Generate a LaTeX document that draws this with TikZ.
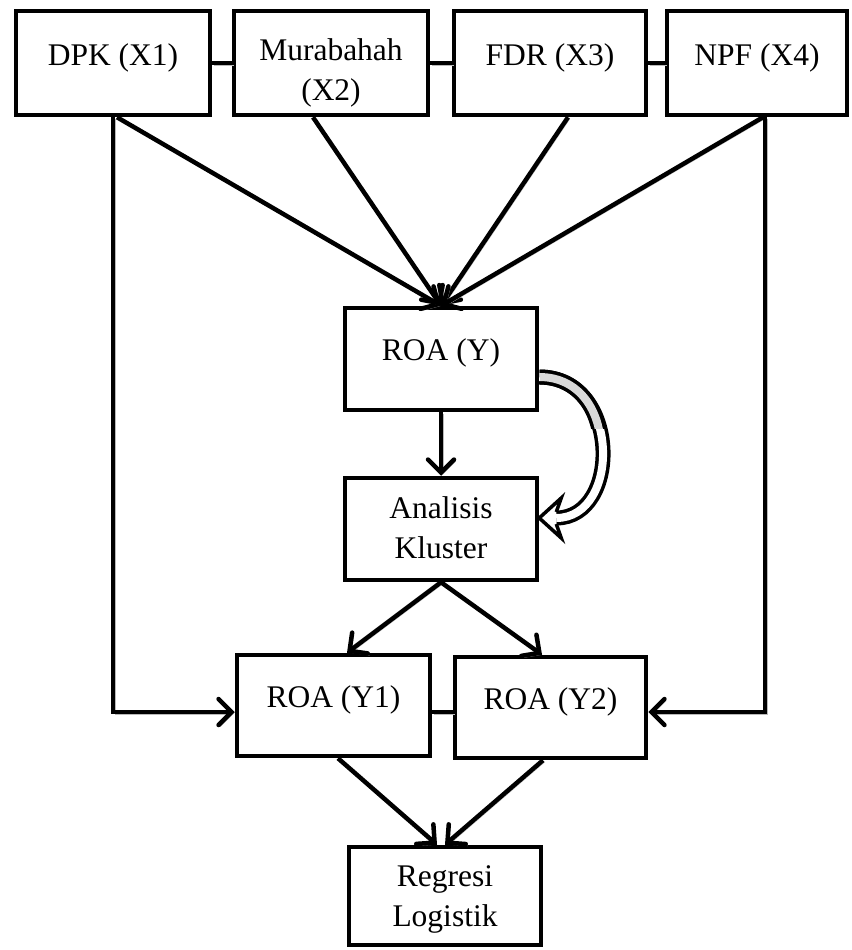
\documentclass[tikz,border=0pt]{standalone}
\usepackage{fontspec}
\setmainfont{Liberation Serif}
\usetikzlibrary{arrows.meta}
\begin{document}
\begin{tikzpicture}[x=1pt,y=-1pt,
  box/.style={draw, fill=white, line width=4.5pt, inner sep=0pt},
  txt/.style={anchor=north, inner sep=0pt, align=center, font=\fontsize{31.5}{40}\selectfont},
  shad/.style={preaction={draw=gray!55, transform canvas={shift={(1.8pt,-1.8pt)}}}},
  link/.style={line width=4.5pt, shad},
  arr/.style={line width=4.5pt, shad, -{Straight Barb[length=13pt,width=26pt,line cap=round]}},
  dbl/.style={line width=3.5pt, double distance=8pt}
]
\useasboundingbox (0,0) rectangle (851,950);
% boxes
\node[box, minimum width=194pt, minimum height=104pt] (dpk) at (113,63) {};
\node[box, minimum width=194pt, minimum height=104pt] (mur) at (331,63) {};
\node[box, minimum width=192pt, minimum height=104pt] (fdr) at (550,63) {};
\node[box, minimum width=180pt, minimum height=104pt] (npf) at (757,63) {};
\node[box, minimum width=192pt, minimum height=102pt] (roa) at (441,359) {};
\node[box, minimum width=192pt, minimum height=102pt] (ana) at (441,529) {};
\node[box, minimum width=193pt, minimum height=101pt] (y1) at (333.5,705.5) {};
\node[box, minimum width=191pt, minimum height=101pt] (y2) at (550.5,707.5) {};
\node[box, minimum width=192pt, minimum height=98pt] (reg) at (445,896) {};
% texts
\node[txt] (tdpk) at ([yshift=-34.5pt]dpk.north) {DPK (X1)};
\node[txt] (tmur) at ([yshift=-29.5pt]mur.north) {Murabahah\\(X2)};
\node[txt] (tfdr) at ([yshift=-34.5pt]fdr.north) {FDR (X3)};
\node[txt] (tnpf) at ([yshift=-34.5pt]npf.north) {NPF (X4)};
\node[txt] (troa) at ([yshift=-32.5pt]roa.north) {ROA (Y)};
\node[txt] (tana) at ([yshift=-20.5pt]ana.north) {Analisis\\Kluster};
\node[txt] (ty1) at ([yshift=-32.5pt]y1.north) {ROA (Y1)};
\node[txt] (ty2) at ([yshift=-32.5pt]y2.north) {ROA (Y2)};
\node[txt] (treg) at ([yshift=-20.5pt]reg.north) {Regresi\\Logistik};
% links
\draw[link] (dpk.east) -- (mur.west);
\draw[link] (mur.east) -- (fdr.west);
\draw[link] (fdr.east) -- (npf.west);
\draw[link] ([yshift=-6.5pt]y1.east) -- ([yshift=-4.5pt]y2.west);
% arrows to ROA
\draw[arr] ([xshift=4pt]dpk.south) -- (roa.north);
\draw[arr] ([xshift=-18pt]mur.south) -- (roa.north);
\draw[arr] ([xshift=18pt]fdr.south) -- (roa.north);
\draw[arr] ([xshift=6pt]npf.south) -- (roa.north);
% side paths
\draw[arr] (dpk.south) |- ([yshift=-6.5pt]y1.west);
\draw[arr] ([xshift=8pt]npf.south) |- ([yshift=-4.5pt]y2.east);
% middle
\draw[arr] (roa.south) -- (ana.north);
\draw[arr] (ana.south) -- ([xshift=13.5pt]y1.north);
\draw[arr] (ana.south) -- ([xshift=-8.5pt]y2.north);
\draw[arr] ([xshift=4.5pt]y1.south) -- ([xshift=-8pt]reg.north);
\draw[arr] ([xshift=-7.5pt]y2.south) -- ([xshift=0pt]reg.north);
% curved hollow arrow
\coordinate (dstart) at ([yshift=-18pt]roa.east);
\coordinate (dend) at ([yshift=11pt]ana.east);
\draw[dbl, double=white, shorten >=17pt] (dstart) .. controls +(82pt,0pt) and +(82pt,0pt) .. (dend);
\begin{scope}
  \clip (540,360) rectangle (640,428);
  \draw[dbl, double=gray!30] (dstart) .. controls +(82pt,0pt) and +(82pt,0pt) .. (dend);
\end{scope}
\fill[white] (dend) -- ([shift={(22,-20)}]dend) -- ([shift={(17,-6)}]dend) -- ([shift={(17,6)}]dend) -- ([shift={(22,20)}]dend) -- cycle;
\draw[line width=3.5pt, line join=miter] ([shift={(17,-6)}]dend) -- ([shift={(22,-20)}]dend) -- (dend) -- ([shift={(22,20)}]dend) -- ([shift={(17,6)}]dend);
\end{tikzpicture}
\end{document}
